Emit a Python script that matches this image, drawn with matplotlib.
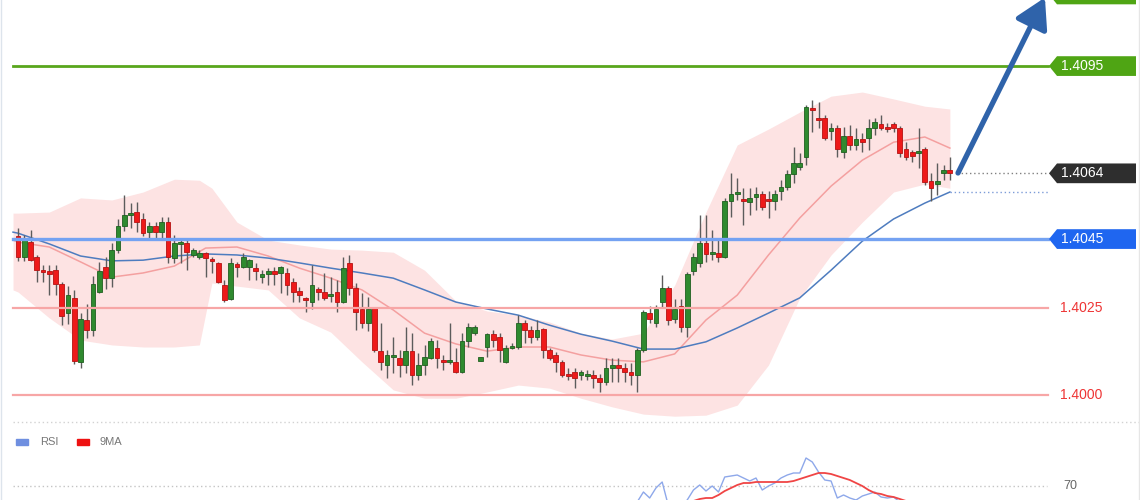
import matplotlib
matplotlib.use("Agg")
import matplotlib.pyplot as plt
from matplotlib.patches import Rectangle, Polygon
from matplotlib.transforms import blended_transform_factory
import numpy as np

plt.rcParams['font.family'] = ['Liberation Sans', 'DejaVu Sans']

# ---------------- data ----------------
open_ = [1.40459, 1.40398, 1.40441, 1.40398, 1.40360, 1.40358, 1.40360, 1.40320, 1.40236, 1.40280,
         1.40095, 1.40216, 1.40187, 1.40297, 1.40369, 1.40337, 1.40418, 1.40488, 1.40519, 1.40528,
         1.40508, 1.40470, 1.40488, 1.40470, 1.40499, 1.40395, 1.40436, 1.40438, 1.40404, 1.40398,
         1.40410, 1.40392, 1.40381, 1.40317, 1.40277, 1.40378, 1.40369, 1.40369, 1.40366, 1.40340,
         1.40349, 1.40358, 1.40352, 1.40352, 1.40326, 1.40300, 1.40280, 1.40268, 1.40306, 1.40297,
         1.40285, 1.40297, 1.40268, 1.40381, 1.40308, 1.40248, 1.40207, 1.40251, 1.40126, 1.40086,
         1.40109, 1.40106, 1.40086, 1.40126, 1.40057, 1.40086, 1.40106, 1.40135, 1.40100, 1.40095,
         1.40095, 1.40066, 1.40155, 1.40178, 1.40097, 1.40138, 1.40175, 1.40167, 1.40095, 1.40135,
         1.40138, 1.40207, 1.40187, 1.40167, 1.40190, 1.40129, 1.40115, 1.40095, 1.40060, 1.40066,
         1.40057, 1.40054, 1.40057, 1.40048, 1.40037, 1.40077, 1.40086, 1.40077, 1.40066, 1.40057,
         1.40129, 1.40236, 1.40207, 1.40268, 1.40308, 1.40219, 1.40256, 1.40196, 1.40358, 1.40381,
         1.40438, 1.40407, 1.40410, 1.40398, 1.40560, 1.40580, 1.40566, 1.40557, 1.40571, 1.40580,
         1.40566, 1.40560, 1.40589, 1.40600, 1.40638, 1.40658, 1.40687, 1.40829, 1.40800, 1.40800,
         1.40762, 1.40771, 1.40701, 1.40748, 1.40722, 1.40739, 1.40742, 1.40771, 1.40782, 1.40774,
         1.40782, 1.40771, 1.40710, 1.40701, 1.40699, 1.40710, 1.40618, 1.40609, 1.40641, 1.40649]
high = [1.40482, 1.40462, 1.40476, 1.40404, 1.40375, 1.40375, 1.40375, 1.40326, 1.40314, 1.40303,
        1.40236, 1.40262, 1.40343, 1.40384, 1.40398, 1.40438, 1.40508, 1.40577, 1.40554, 1.40557,
        1.40525, 1.40499, 1.40499, 1.40514, 1.40514, 1.40462, 1.40447, 1.40447, 1.40424, 1.40418,
        1.40412, 1.40398, 1.40384, 1.40332, 1.40395, 1.40384, 1.40410, 1.40392, 1.40381, 1.40360,
        1.40366, 1.40369, 1.40372, 1.40366, 1.40337, 1.40311, 1.40282, 1.40375, 1.40311, 1.40352,
        1.40340, 1.40332, 1.40398, 1.40404, 1.40323, 1.40294, 1.40282, 1.40253, 1.40207, 1.40129,
        1.40167, 1.40129, 1.40196, 1.40178, 1.40121, 1.40144, 1.40164, 1.40158, 1.40115, 1.40207,
        1.40135, 1.40178, 1.40207, 1.40201, 1.40109, 1.40178, 1.40187, 1.40178, 1.40144, 1.40149,
        1.40230, 1.40216, 1.40199, 1.40216, 1.40193, 1.40135, 1.40123, 1.40100, 1.40077, 1.40077,
        1.40071, 1.40071, 1.40071, 1.40060, 1.40106, 1.40106, 1.40106, 1.40092, 1.40092, 1.40135,
        1.40245, 1.40256, 1.40259, 1.40346, 1.40314, 1.40277, 1.40277, 1.40355, 1.40410, 1.40519,
        1.40519, 1.40476, 1.40447, 1.40569, 1.40641, 1.40626, 1.40597, 1.40597, 1.40600, 1.40589,
        1.40589, 1.40592, 1.40620, 1.40649, 1.40716, 1.40699, 1.40837, 1.40852, 1.40846, 1.40808,
        1.40785, 1.40779, 1.40774, 1.40779, 1.40771, 1.40756, 1.40797, 1.40800, 1.40808, 1.40785,
        1.40788, 1.40777, 1.40730, 1.40707, 1.40771, 1.40716, 1.40641, 1.40670, 1.40664, 1.40687]
low = [1.40386, 1.40386, 1.40386, 1.40326, 1.40326, 1.40288, 1.40288, 1.40201, 1.40204, 1.40089,
       1.40077, 1.40164, 1.40170, 1.40294, 1.40306, 1.40311, 1.40410, 1.40473, 1.40482, 1.40470,
       1.40459, 1.40447, 1.40447, 1.40453, 1.40381, 1.40381, 1.40381, 1.40360, 1.40398, 1.40392,
       1.40340, 1.40352, 1.40323, 1.40268, 1.40274, 1.40340, 1.40366, 1.40332, 1.40332, 1.40323,
       1.40317, 1.40317, 1.40294, 1.40288, 1.40268, 1.40268, 1.40239, 1.40248, 1.40274, 1.40274,
       1.40268, 1.40239, 1.40265, 1.40288, 1.40187, 1.40193, 1.40184, 1.40123, 1.40071, 1.40048,
       1.40063, 1.40051, 1.40063, 1.40028, 1.40043, 1.40057, 1.40103, 1.40077, 1.40071, 1.40089,
       1.40063, 1.40063, 1.40138, 1.40173, 1.40097, 1.40109, 1.40138, 1.40095, 1.40092, 1.40132,
       1.40132, 1.40149, 1.40149, 1.40158, 1.40106, 1.40100, 1.40066, 1.40051, 1.40043, 1.40019,
       1.40043, 1.40043, 1.40019, 1.40008, 1.40028, 1.40037, 1.40037, 1.40037, 1.40028, 1.40008,
       1.40123, 1.40207, 1.40196, 1.40253, 1.40201, 1.40207, 1.40181, 1.40167, 1.40346, 1.40369,
       1.40384, 1.40389, 1.40384, 1.40395, 1.40514, 1.40563, 1.40490, 1.40519, 1.40534, 1.40534,
       1.40511, 1.40534, 1.40563, 1.40592, 1.40612, 1.40649, 1.40664, 1.40759, 1.40771, 1.40736,
       1.40736, 1.40687, 1.40684, 1.40707, 1.40707, 1.40701, 1.40707, 1.40751, 1.40765, 1.40759,
       1.40759, 1.40687, 1.40678, 1.40673, 1.40655, 1.40606, 1.40560, 1.40577, 1.40620, 1.40620]
close = [1.40398, 1.40447, 1.40389, 1.40360, 1.40355, 1.40349, 1.40320, 1.40228, 1.40288, 1.40097,
         1.40219, 1.40187, 1.40320, 1.40358, 1.40337, 1.40418, 1.40488, 1.40519, 1.40525, 1.40499,
         1.40467, 1.40488, 1.40470, 1.40499, 1.40398, 1.40438, 1.40441, 1.40412, 1.40418, 1.40410,
         1.40395, 1.40386, 1.40326, 1.40274, 1.40381, 1.40369, 1.40398, 1.40389, 1.40358, 1.40349,
         1.40358, 1.40349, 1.40369, 1.40317, 1.40297, 1.40288, 1.40274, 1.40317, 1.40297, 1.40280,
         1.40291, 1.40268, 1.40366, 1.40308, 1.40239, 1.40207, 1.40248, 1.40129, 1.40095, 1.40115,
         1.40115, 1.40086, 1.40126, 1.40057, 1.40086, 1.40109, 1.40155, 1.40106, 1.40095, 1.40097,
         1.40066, 1.40155, 1.40196, 1.40196, 1.40109, 1.40175, 1.40158, 1.40129, 1.40135, 1.40138,
         1.40207, 1.40187, 1.40167, 1.40187, 1.40129, 1.40106, 1.40095, 1.40057, 1.40054, 1.40048,
         1.40066, 1.40060, 1.40048, 1.40037, 1.40077, 1.40086, 1.40077, 1.40066, 1.40057, 1.40129,
         1.40239, 1.40219, 1.40248, 1.40308, 1.40216, 1.40248, 1.40196, 1.40349, 1.40398, 1.40438,
         1.40407, 1.40412, 1.40398, 1.40560, 1.40580, 1.40586, 1.40560, 1.40569, 1.40580, 1.40543,
         1.40560, 1.40580, 1.40600, 1.40638, 1.40670, 1.40670, 1.40832, 1.40823, 1.40794, 1.40742,
         1.40771, 1.40710, 1.40748, 1.40722, 1.40739, 1.40730, 1.40771, 1.40788, 1.40771, 1.40768,
         1.40771, 1.40699, 1.40687, 1.40690, 1.40704, 1.40615, 1.40597, 1.40618, 1.40649, 1.40641]

# Bollinger band (read at sample candles)
band_idx = [-0.8, 0, 5, 10, 15, 20, 25, 29, 31, 35, 40, 45, 50, 55, 60, 65, 70, 75, 80, 85,
            90, 95, 100, 105, 110, 115, 120, 125, 130, 135, 140, 145, 149]
band_upper = [1.40525, 1.40525, 1.40528, 1.40569, 1.40563, 1.40586, 1.40623, 1.40620, 1.40597,
              1.40499, 1.40447, 1.40433, 1.40421, 1.40418, 1.40412, 1.40360, 1.40271, 1.40242,
              1.40230, 1.40210, 1.40178, 1.40161, 1.40178, 1.40317, 1.40528, 1.40722, 1.40768,
              1.40817, 1.40863, 1.40875, 1.40855, 1.40834, 1.40826]
band_lower = [1.40303, 1.40297, 1.40222, 1.40158, 1.40144, 1.40138, 1.40138, 1.40144, 1.40323,
              1.40314, 1.40303, 1.40222, 1.40181, 1.40095, 1.40014, 1.39990, 1.39990, 1.40008,
              1.40028, 1.40019, 1.39990, 1.39965, 1.39944, 1.39938, 1.39941, 1.39970, 1.40086,
              1.40280, 1.40404, 1.40499, 1.40586, 1.40609, 1.40597]

# Moving averages (read at sample candles)
ma_idx = [-0.8, 0, 5, 10, 15, 20, 25, 30, 35, 40, 45, 50, 55, 60, 65, 70, 75, 80, 85, 90,
          95, 100, 105, 110, 115, 120, 125, 130, 135, 140, 145, 149]
ma_mid = [1.40447, 1.40441, 1.40427, 1.40384, 1.40340, 1.40352, 1.40372, 1.40424, 1.40427,
          1.40401, 1.40366, 1.40337, 1.40303, 1.40245, 1.40178, 1.40147, 1.40126, 1.40138,
          1.40138, 1.40115, 1.40100, 1.40095, 1.40118, 1.40216, 1.40288, 1.40404, 1.40511,
          1.40603, 1.40678, 1.40730, 1.40745, 1.40713]
ma_long = [1.40470, 1.40467, 1.40436, 1.40401, 1.40387, 1.40389, 1.40401, 1.40407, 1.40404,
           1.40395, 1.40381, 1.40366, 1.40352, 1.40337, 1.40303, 1.40268, 1.40248, 1.40230,
           1.40201, 1.40175, 1.40155, 1.40132, 1.40132, 1.40153, 1.40193, 1.40236, 1.40280,
           1.40360, 1.40444, 1.40508, 1.40554, 1.40586]

# Levels (the top target tag is cut off at the image edge; its text is not visible)
level_tags = [(1.41157, '', '#4fa514'), (1.4095, '1.4095', '#4fa514'),
              (1.4064, '1.4064', '#2e2e2e'), (1.4045, '1.4045', '#1f66f0')]
green_lines = [1.4095]
blue_lines = [1.4045]
level_red = [1.4025, 1.4000]
target_price = 1.41148

# RSI panel (visible part only)
rsi_idx = list(range(99, 143))
rsi = [62, 67, 64, 69, 72, 60, 58, 60, 63, 68, 70.5, 67.5, 70, 67, 74.5, 75, 75.5, 74, 72.5, 74,
       68, 70, 71.5, 74, 75.5, 76.5, 76.5, 84, 82, 77, 73, 72.5, 64, 65.5, 64, 63, 65, 66, 67,
       64.5, 64, 64.5, 62, 60]
ma9_idx = list(range(108, 143))
rsi_ma9 = [62.5, 63.5, 64, 64, 65.5, 67.5, 69, 70.5, 71.5, 71.5, 72, 72, 72, 72, 72, 72, 72.5,
           73.5, 74.5, 75.5, 76.5, 76.5, 76, 75, 74, 73, 71.5, 70, 68, 66.5, 66, 65, 64.5, 63.5,
           62.5]
rsi_level = 70

# ---------------- figure ----------------
W, H = 1140, 500
fig = plt.figure(figsize=(W / 100, H / 100), dpi=100)
fig.patch.set_facecolor('white')

ax = fig.add_axes([0, 80 / H, 1, 420 / H])
ax.set_xlim(-2.88, 179.4)
ax.set_ylim(1.39927, 1.41141)
ax.axis('off')
tr = blended_transform_factory(ax.transAxes, ax.transData)

ax.fill_between(band_idx, band_lower, band_upper, color='#fde3e3', lw=0, zorder=1)
ax.plot(ma_idx, ma_mid, color='#f4a0a0', lw=1.1, zorder=2)
ax.plot(ma_idx, ma_long, color='#4e7cbf', lw=1.1, zorder=2)

n = len(close)
for i in range(n):
    o, h, l, c = open_[i], high[i], low[i], close[i]
    up = c >= o
    ax.vlines(i, l, h, color='#5c5c5c', lw=1.0, zorder=3)
    bottom = min(o, c)
    height = max(abs(c - o), 0.00005)
    fc = '#2f8a2f' if up else '#ee1a1a'
    ec = '#1f5f1f' if up else '#b51212'
    ax.add_patch(Rectangle((i - 0.38, bottom), 0.76, height, facecolor=fc,
                           edgecolor=ec, lw=0.6, zorder=4))

x0, x1 = 13 / W, 1048 / W
for price in green_lines:
    ax.plot([x0, x1], [price, price], transform=tr, color='#58a61c', lw=2.0, zorder=5)
for price in blue_lines:
    ax.plot([x0, x1], [price, price], transform=tr, color='#74a2f2', lw=2.4, zorder=5)
for price in level_red:
    ax.plot([x0, x1], [price, price], transform=tr, color='#f7a6a6', lw=1.6, zorder=5)
    ax.text(1060 / W, price, f'{price:.4f}', transform=tr, color='#ee3535',
            fontsize=10, va='center', ha='left', zorder=8)

hh = 0.000285
xa, xb, xc = 1049 / W, 1057 / W, 1136 / W
for price, txt, col in level_tags:
    poly = Polygon([(xa, price), (xb, price + hh), (xc, price + hh), (xc, price - hh),
                    (xb, price - hh)], closed=True, transform=tr, facecolor=col,
                   edgecolor='none', zorder=7, clip_on=False)
    ax.add_patch(poly)
    if txt:
        ax.text(1061 / W, price, txt, transform=tr, color='white', fontsize=10,
                va='center', ha='left', zorder=8)

# dotted projections
x_end = 164.7
ax.plot([n - 1 + 1.2, x_end], [close[-1], close[-1]], color='#808080', lw=1,
        ls=(0, (1, 2)), zorder=5)
ax.plot([ma_idx[-1], x_end], [ma_long[-1], ma_long[-1]], color='#7d9cd8', lw=1,
        ls=(0, (1, 2)), zorder=5)

# arrow
ax.annotate('', xy=(164.2, target_price), xytext=(n - 1 + 1.3, close[-1]),
            arrowprops=dict(arrowstyle='-|>,head_length=0.95,head_width=0.55',
                            color='#2f63aa', lw=3.8, shrinkA=0, shrinkB=0,
                            mutation_scale=19),
            zorder=9, annotation_clip=False)

# ---------------- RSI panel ----------------
rax = fig.add_axes([0, 0, 1, 80 / H])
rax.set_xlim(-2.88, 179.4)
rax.set_ylim(63, 103)
rax.axis('off')
trr = blended_transform_factory(rax.transAxes, rax.transData)
rax.plot([13 / W, 1047 / W], [rsi_level, rsi_level], transform=trr, color='#c4c4c4',
         lw=1, ls=(0, (1, 2)))
rax.text(1063 / W, rsi_level, str(rsi_level), transform=trr, color='#666666',
         fontsize=9, va='center', ha='left')
rax.plot(rsi_idx, rsi, color='#8ea8ea', lw=1.0)
rax.plot(ma9_idx, rsi_ma9, color='#f04545', lw=1.3)

# ---------------- overlay decorations ----------------
ov = fig.add_axes([0, 0, 1, 1])
ov.set_xlim(0, W)
ov.set_ylim(H, 0)
ov.axis('off')
ov.plot([13, W], [422, 422], color='#d2d2d2', lw=1, ls=(0, (1, 2)))
ov.add_patch(Rectangle((16, 439), 12, 6, color='#6f8fe0'))
ov.text(40, 442, 'RSI', fontsize=8, color='#777777', va='center', ha='left')
ov.add_patch(Rectangle((77, 439), 12, 6, color='#ee1111'))
ov.text(99, 442, '9MA', fontsize=8, color='#777777', va='center', ha='left')
ov.plot([0.5, 0.5], [0, H], color='#dde4ec', lw=1)
ov.plot([1138.5, 1138.5], [0, H], color='#e6e6e6', lw=1)

fig.savefig('out.png', dpi=100)
